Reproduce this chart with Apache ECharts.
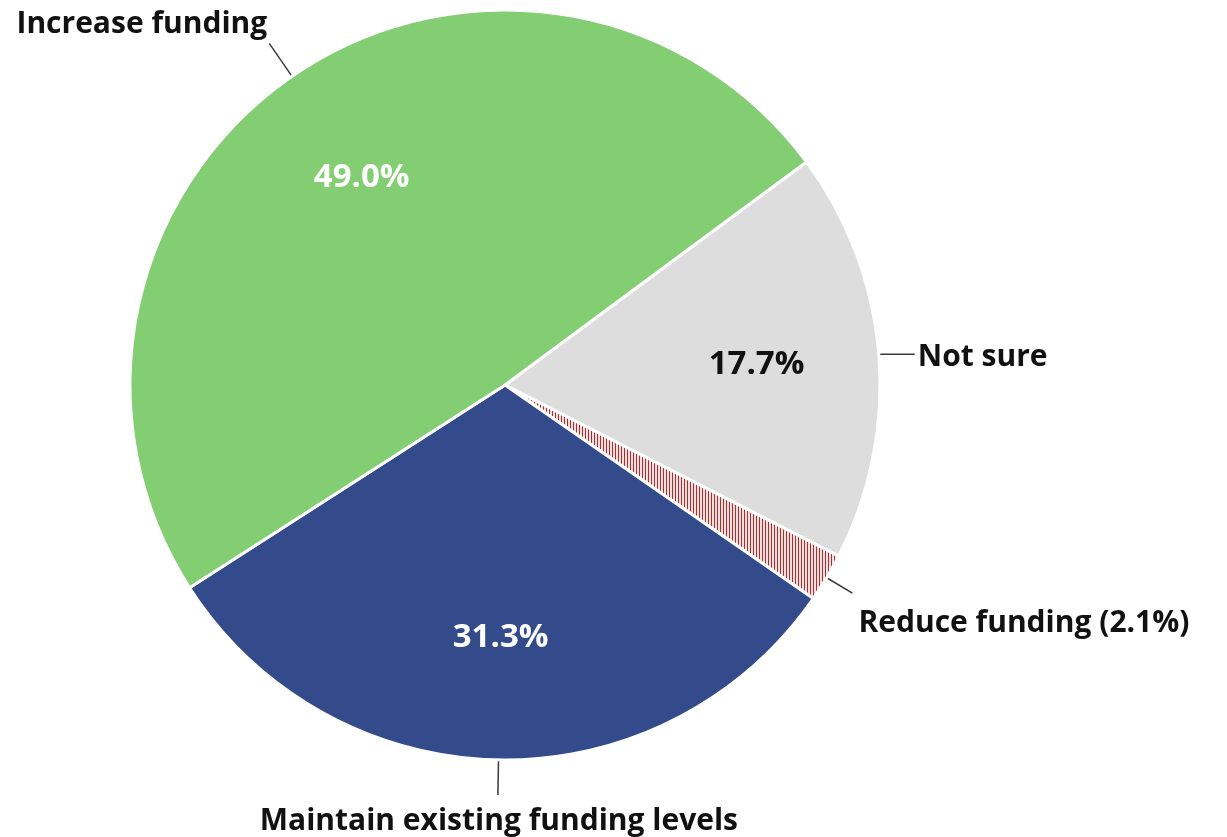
<!DOCTYPE html>
<html>
<head>
<meta charset="utf-8">
<script src="https://cdn.jsdelivr.net/npm/echarts@6/dist/echarts.min.js"></script>
<style>
  html, body { margin: 0; padding: 0; background: #ffffff; }
  #chart { width: 1227px; height: 837px; }
</style>
</head>
<body>
<div id="chart"></div>
<script>
// Survey responses on funding, in percent (clockwise from the upper right)
const categories = ['Not sure', 'Reduce funding', 'Maintain existing funding levels', 'Increase funding'];
const shares = [17.7, 2.1, 31.3, 49.0];
const sliceColors = ['#dddddd', 'hatch', '#334a8b', '#83cd73'];
const innerLabelColors = ['#111111', null, '#ffffff', '#ffffff'];

// Vertical dark-red stripes for the small "Reduce funding" slice
function hatchPattern() {
  const c = document.createElement('canvas');
  c.width = 3; c.height = 3;
  const g = c.getContext('2d');
  g.fillStyle = '#f1dede';
  g.fillRect(0, 0, 3, 3);
  g.fillStyle = '#a03232';
  g.fillRect(0, 0, 1, 3);
  return { image: c, repeat: 'repeat' };
}

const FONT = '"Open Sans", Lato, "DejaVu Sans", sans-serif';
const R = 375;

// Leader-line lengths and label placement relative to the line end
const leader = [
  { length: 4, length2: 32, dx: 3, dy: 3, align: 'left' },
  { length: 30, length2: 0, dx: 6, dy: 30, align: 'left' },
  { length: 35, length2: 0, dx: 1, dy: 27, align: 'center' },
  { length: 40, length2: 0, dx: -2, dy: -19, align: 'right' }
];

const outerData = categories.map((name, i) => ({
  name: name,
  value: shares[i],
  itemStyle: { color: sliceColors[i] === 'hatch' ? hatchPattern() : sliceColors[i] },
  labelLine: { length: leader[i].length, length2: leader[i].length2 }
}));

const innerData = categories.map((name, i) => ({
  name: name,
  value: shares[i],
  label: innerLabelColors[i] ? { show: true, color: innerLabelColors[i] } : { show: false }
}));

const chart = echarts.init(document.getElementById('chart'), null, { renderer: 'canvas' });

chart.setOption({
  animation: false,
  backgroundColor: '#ffffff',
  series: [
    {
      type: 'pie',
      center: [505, 385],
      radius: [0, R],
      startAngle: 36.5,
      clockwise: true,
      avoidLabelOverlap: false,
      silent: true,
      itemStyle: { borderColor: '#ffffff', borderWidth: 3 },
      label: {
        show: true,
        position: 'outside',
        fontFamily: FONT,
        fontWeight: 'bold',
        fontSize: 30,
        color: '#111111',
        formatter: function (p) {
          return p.dataIndex === 1 ? p.name + ' (' + p.value.toFixed(1) + '%)' : p.name;
        }
      },
      labelLine: { show: true, smooth: false, lineStyle: { color: '#3a3a3a', width: 1.5 } },
      labelLayout: function (p) {
        const pts = p.labelLinePoints;
        if (!pts) return {};
        const cfg = leader[p.dataIndex];
        const end = pts[pts.length - 1];
        return {
          x: end[0] + cfg.dx,
          y: end[1] + cfg.dy,
          align: cfg.align,
          verticalAlign: 'middle',
          labelLinePoints: pts
        };
      },
      data: outerData
    },
    {
      // transparent copy that carries the percentage labels inside the slices
      type: 'pie',
      center: [505, 385],
      radius: [R * 0.33, R],
      startAngle: 36.5,
      clockwise: true,
      silent: true,
      itemStyle: { color: 'rgba(0,0,0,0)', borderWidth: 0 },
      label: {
        position: 'inside',
        fontFamily: FONT,
        fontWeight: 'bold',
        fontSize: 33,
        formatter: function (p) { return p.value.toFixed(1) + '%'; }
      },
      labelLine: { show: false },
      data: innerData
    }
  ]
});
</script>
</body>
</html>
